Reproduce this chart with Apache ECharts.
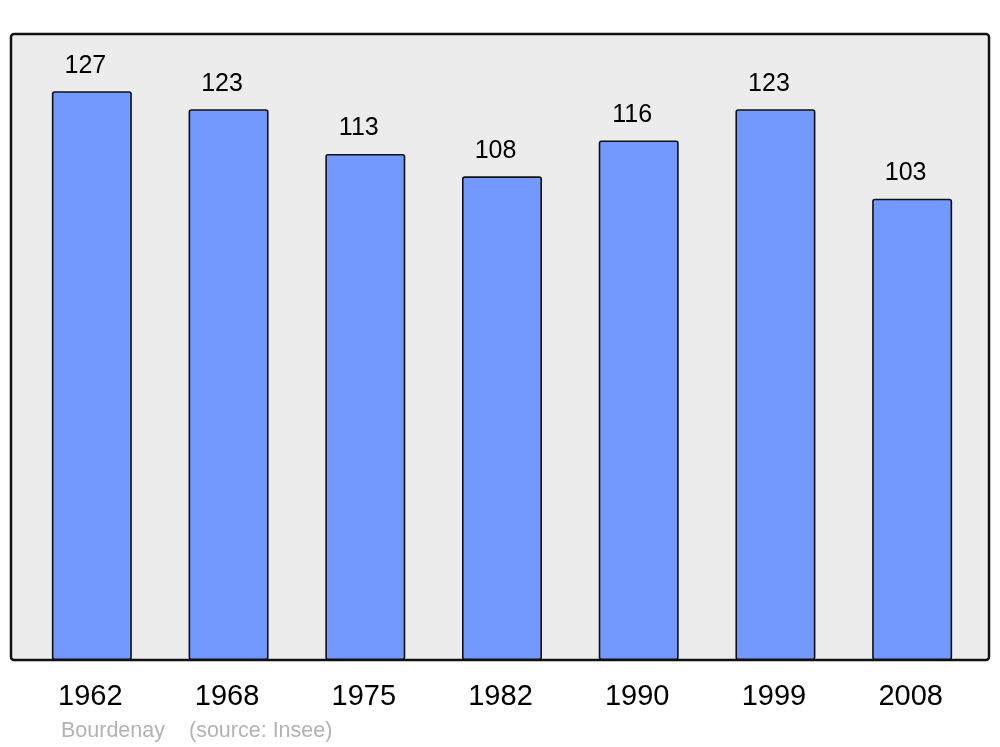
<!DOCTYPE html>
<html>
<head>
<meta charset="utf-8">
<script src="https://cdn.jsdelivr.net/npm/echarts@6/dist/echarts.min.js"></script>
<style>html,body{margin:0;padding:0;background:#fff}#c{width:1000px;height:747px}</style>
</head>
<body>
<div id="c"></div>
<script>
const years = ['1962', '1968', '1975', '1982', '1990', '1999', '2008'];
const population = [127, 123, 113, 108, 116, 123, 103];
const footerName = 'Bourdenay';
const footerSource = '(source: Insee)';

const chart = echarts.init(document.getElementById('c'), null, {renderer: 'canvas'});
chart.setOption({
  animation: false,
  graphic: [
    {type: 'rect', z: -10, shape: {x: 11, y: 34, width: 978, height: 626, r: 3},
     style: {fill: '#ececec', stroke: '#111', lineWidth: 2.5}},
    {type: 'text', left: 61, top: 720.5, style: {text: footerName, fill: '#b3b3b3', font: '21.5px "Liberation Sans", Arial, sans-serif'}},
    {type: 'text', left: 189, top: 720.5, style: {text: footerSource, fill: '#b3b3b3', font: '21.5px "Liberation Sans", Arial, sans-serif'}}
  ],
  grid: {left: 23.5, width: 957, top: 33, height: 627, containLabel: false},
  xAxis: {
    type: 'category', data: years,
    axisLine: {show: false}, axisTick: {show: false},
    axisLabel: {color: '#000', fontSize: 29, fontFamily: '"Liberation Sans", Arial, sans-serif', margin: 22,
      padding: [0, 3, 0, 0]}
  },
  yAxis: {type: 'value', min: 0, max: 140, show: false, splitLine: {show: false}},
  series: [{
    type: 'bar', data: population, barWidth: 80,
    itemStyle: {color: '#7399ff', borderColor: '#111', borderWidth: 1.6, borderRadius: 2},
    label: {show: true, position: 'top', distance: 13, offset: [-6.5, 0], color: '#000', fontSize: 25,
      fontFamily: '"Liberation Sans", Arial, sans-serif'}
  }]
});
</script>
</body>
</html>
